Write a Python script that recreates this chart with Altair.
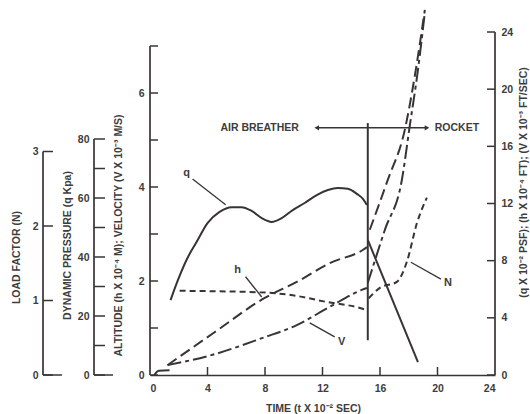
import altair as alt
import pandas as pd

# ---------------- data ----------------
time_ticks = [4, 8, 12, 16, 20]
time_labels = [0, 4, 8, 12, 16, 20, 24]

# dynamic pressure q (kPa)
q_seg1_t = [1.43, 1.92, 2.54, 3.24, 4.00, 4.84, 5.68, 6.37, 7.07, 7.77, 8.46, 9.16, 9.93,
            10.76, 11.60, 12.37, 13.06, 13.76, 14.39, 14.81, 15.09]
q_seg1_v = [25.4, 31.9, 39.0, 45.1, 51.5, 55.3, 56.9, 56.9, 55.6, 53.2, 51.9, 53.2, 55.9,
            58.3, 61.0, 62.7, 63.4, 63.1, 61.4, 59.7, 57.6]
q_seg2_t = [15.15, 18.64]
q_seg2_v = [45.8, 4.4]

# altitude h (x 10^-4 m)
h_seg1_t = [1.22, 4.49, 7.98, 10.21, 12.50, 14.80, 15.09]
h_seg1_v = [0.21, 0.91, 1.64, 1.98, 2.38, 2.66, 2.72]
h_seg2_t = [15.29, 16.54, 17.72, 18.43, 19.12]
h_seg2_v = [3.09, 4.15, 5.21, 6.38, 7.77]

# velocity V (x 10^-3 m/s)
V_seg1_t = [1.22, 4.35, 7.84, 10.21, 12.50, 14.73, 15.09]
V_seg1_v = [0.21, 0.43, 0.79, 1.06, 1.45, 1.81, 1.85]
V_seg2_t = [15.15, 16.34, 17.52, 18.08, 18.64, 19.12]
V_seg2_v = [1.96, 3.09, 4.15, 5.32, 6.49, 7.72]

# load factor N
N_seg1_t = [2.06, 7.63, 9.93, 12.30, 14.60, 15.09]
N_seg1_v = [1.13, 1.11, 1.07, 0.98, 0.90, 0.87]
N_seg2_t = [15.22, 15.99, 17.17, 17.87, 18.57, 19.26]
N_seg2_v = [1.03, 1.17, 1.25, 1.52, 2.04, 2.38]

# common start of h and V
start_t = [0.30, 0.45, 0.62, 1.36]
start_v = [0.0, 0.06, 0.09, 0.10]

# transition line (air breather -> rocket)
trans_t = [15.15]
trans_lo = [0.74]
trans_hi = [5.36]

# phase arrow
arrow_t = [11.6, 19.27]
arrow_y = [5.26, 5.26]

# axis tick values
main_ticks = [0, 1, 2, 3, 4, 5, 6, 7]
main_labels = [0, 2, 4, 6]
right_ticks = [0, 4, 8, 12, 16, 20, 24]
kpa_ticks = [0, 10, 20, 30, 40, 50, 60, 70, 80]
kpa_labels = [0, 20, 40, 60, 80]
n_ticks = [0, 1, 2, 3]

# annotations
ann_text = ["q", "h", "V", "N"]
ann_t = [2.55, 6.10, 13.34, 20.73]
ann_y = [4.30, 2.23, 0.70, 1.96]
lead_t1 = [2.96, 6.65, 12.85, 20.24]
lead_y1 = [4.17, 2.09, 0.81, 2.04]
lead_t2 = [5.26, 7.77, 11.11, 18.15]
lead_y2 = [3.62, 1.66, 1.11, 2.40]

# ---------------- styling ----------------
W, H = 345, 343
INK = "#393434"
TXT = "#3d3d3d"
FONT = "Liberation Sans"

xs = alt.Scale(domain=[0, 24], nice=False, zero=False)
main_s = alt.Scale(domain=[0, H / 47.0], nice=False, zero=False)
right_s = alt.Scale(domain=[0, 24], nice=False, zero=False)
kpa_s = alt.Scale(domain=[0, H / 2.95], nice=False, zero=False)
n_s = alt.Scale(domain=[0, H / 74.5], nice=False, zero=False)

lab = dict(labelFont=FONT, labelFontSize=10.5, labelFontWeight="bold", labelColor=TXT,
           titleFont=FONT, titleFontSize=10.5, titleFontWeight="bold", titleColor=TXT,
           grid=False, ticks=False, domain=False)

X_AXIS = alt.Axis(values=time_labels, orient="bottom", labelPadding=8,
                  title="TIME (t X 10⁻² SEC)", titleX=163, titleY=33,
                  titleBaseline="middle", titleAlign="center",
                  labelFont=FONT, labelFontSize=10.5, labelFontWeight="bold", labelColor=TXT,
                  titleFont=FONT, titleFontSize=10.5, titleFontWeight="bold", titleColor=TXT,
                  grid=False, ticks=False, domain=True, domainColor=INK, domainWidth=1.7)


def X(field="t"):
    return alt.X(f"{field}:Q", scale=xs, axis=X_AXIS)


def seg_df(*pairs):
    rows = []
    for i, (ts, vs) in enumerate(pairs):
        for t, v in zip(ts, vs):
            rows.append({"t": t, "v": v, "seg": i})
    return pd.DataFrame(rows)


def curve(df, scale, width=2.0, **mk):
    return alt.Chart(df).mark_line(color=INK, strokeWidth=width, interpolate="monotone", **mk).encode(
        x=X(), y=alt.Y("v:Q", scale=scale, axis=None), detail="seg:N")


def axis_layers(x_px, vals, top, scale, tlen, axis, ext=None):
    out = []
    out.append(alt.Chart(pd.DataFrame({"a": [0], "b": [top]})).mark_rule(color=INK, strokeWidth=1.7).encode(
        x=alt.value(x_px), y=alt.Y("a:Q", scale=scale, axis=None), y2="b:Q"))
    out.append(alt.Chart(pd.DataFrame({"v": vals})).mark_rule(color=INK, strokeWidth=1.5).encode(
        x=alt.value(x_px), x2=alt.value(x_px + tlen), y=alt.Y("v:Q", scale=scale, axis=axis)))
    if ext is not None:
        out.append(alt.Chart(pd.DataFrame({"v": [0]})).mark_rule(color=INK, strokeWidth=1.5).encode(
            x=alt.value(x_px), x2=alt.value(x_px + ext), y=alt.Y("v:Q", scale=scale, axis=None)))
    return out


main_axis = alt.Axis(orient="left", values=main_labels, labelPadding=6,
                     title="ALTITUDE (h X 10⁻⁴ M); VELOCITY (V X 10⁻³ M/S)",
                     titleAngle=270, titleAlign="center", titleBaseline="middle",
                     titleX=-32, titleY=203, **lab)
kpa_axis = alt.Axis(orient="left", offset=56, values=kpa_labels, labelPadding=5,
                    title="DYNAMIC PRESSURE (q Kpa)",
                    titleAngle=270, titleAlign="center", titleBaseline="middle",
                    titleX=-27, titleY=213, **lab)
n_axis = alt.Axis(orient="left", offset=107, values=n_ticks, labelPadding=5,
                  title="LOAD FACTOR (N)",
                  titleAngle=270, titleAlign="center", titleBaseline="middle",
                  titleX=-27, titleY=225, **lab)
right_axis = alt.Axis(orient="right", values=right_ticks, labelPadding=6,
                      title="(q X 10⁻² PSF); (h X 10⁻⁴ FT); (V X 10⁻³ FT/SEC)",
                      titleAngle=270, titleAlign="center", titleBaseline="middle",
                      titleX=28, titleY=150, **lab)

layers = []
layers += axis_layers(0, main_ticks, 7, main_s, 8, main_axis)
layers += axis_layers(-56, kpa_ticks, 80, kpa_s, 11, kpa_axis, ext=19)
layers += axis_layers(-107, n_ticks, 3, n_s, 10, n_axis, ext=19)
# right axis: line with inward (left) ticks
layers.append(alt.Chart(pd.DataFrame({"a": [0], "b": [24]})).mark_rule(color=INK, strokeWidth=1.7).encode(
    x=alt.value(W), y=alt.Y("a:Q", scale=right_s, axis=None), y2="b:Q"))
layers.append(alt.Chart(pd.DataFrame({"v": right_ticks})).mark_rule(color=INK, strokeWidth=1.5).encode(
    x=alt.value(W - 8), x2=alt.value(W), y=alt.Y("v:Q", scale=right_s, axis=right_axis)))

# x-axis inward ticks
layers.append(alt.Chart(pd.DataFrame({"t": time_ticks})).mark_rule(color=INK, strokeWidth=1.5).encode(
    x=X(), y=alt.value(H), y2=alt.value(H - 8)))

# curves
layers.append(curve(seg_df((q_seg1_t, q_seg1_v), (q_seg2_t, q_seg2_v)), kpa_s))
layers.append(curve(seg_df((h_seg1_t, h_seg1_v), (h_seg2_t, h_seg2_v)), main_s, strokeDash=[11, 5]))
layers.append(curve(seg_df((V_seg1_t, V_seg1_v), (V_seg2_t, V_seg2_v)), main_s, strokeDash=[14, 4, 4, 4]))
layers.append(curve(seg_df((N_seg1_t, N_seg1_v), (N_seg2_t, N_seg2_v)), n_s, strokeDash=[6, 4]))
layers.append(curve(seg_df((start_t, start_v)), main_s))

# transition line (vertical rule from trans_lo to trans_hi)
layers.append(alt.Chart(pd.DataFrame({"t": trans_t, "lo": trans_lo, "hi": trans_hi})).mark_rule(
    color=INK, strokeWidth=2.0).encode(x=X(), y=alt.Y("hi:Q", scale=main_s, axis=None), y2=alt.Y2("lo:Q")))

# phase arrow
layers.append(alt.Chart(pd.DataFrame({"t": [arrow_t[0]], "t2": [arrow_t[1]], "y": [arrow_y[0]]})).mark_rule(
    color=INK, strokeWidth=1.5).encode(x=X(), x2="t2:Q", y=alt.Y("y:Q", scale=main_s, axis=None)))
layers.append(alt.Chart(pd.DataFrame({"t": arrow_t, "y": arrow_y,
                                      "shp": ["triangle-left", "triangle-right"]})).mark_point(
    filled=True, color=INK, opacity=1, size=28).encode(
    x=X(), y=alt.Y("y:Q", scale=main_s, axis=None),
    shape=alt.Shape("shp:N", scale=None, legend=None)))
layers.append(alt.Chart(pd.DataFrame({"t": [7.63], "y": [5.26], "s": ["AIR BREATHER"]})).mark_text(
    font=FONT, fontSize=10.5, fontWeight="bold", color=TXT, align="center", baseline="middle").encode(
    x=X(), y=alt.Y("y:Q", scale=main_s, axis=None), text="s:N"))
layers.append(alt.Chart(pd.DataFrame({"t": [19.81], "y": [5.26], "s": ["ROCKET"]})).mark_text(
    font=FONT, fontSize=10.5, fontWeight="bold", color=TXT, align="left", baseline="middle").encode(
    x=X(), y=alt.Y("y:Q", scale=main_s, axis=None), text="s:N"))

# curve labels and leaders
layers.append(alt.Chart(pd.DataFrame({"t": lead_t1, "t2": lead_t2, "y": lead_y1, "y2": lead_y2})).mark_rule(
    color=INK, strokeWidth=1.3).encode(x=X(), x2="t2:Q", y=alt.Y("y:Q", scale=main_s, axis=None), y2="y2:Q"))
layers.append(alt.Chart(pd.DataFrame({"t": ann_t, "y": ann_y, "s": ann_text})).mark_text(
    font=FONT, fontSize=11, fontWeight="bold", color=TXT, align="center", baseline="middle").encode(
    x=X(), y=alt.Y("y:Q", scale=main_s, axis=None), text="s:N"))

chart = alt.layer(*layers).resolve_scale(y="independent").properties(
    width=W, height=H,
    autosize=alt.AutoSizeParams(type="none"),
    padding={"left": 150, "top": 32, "right": 35, "bottom": 39},
    background="white",
).configure_view(stroke=None)

chart.save("out.html", embed_options={"renderer": "svg", "actions": False})
